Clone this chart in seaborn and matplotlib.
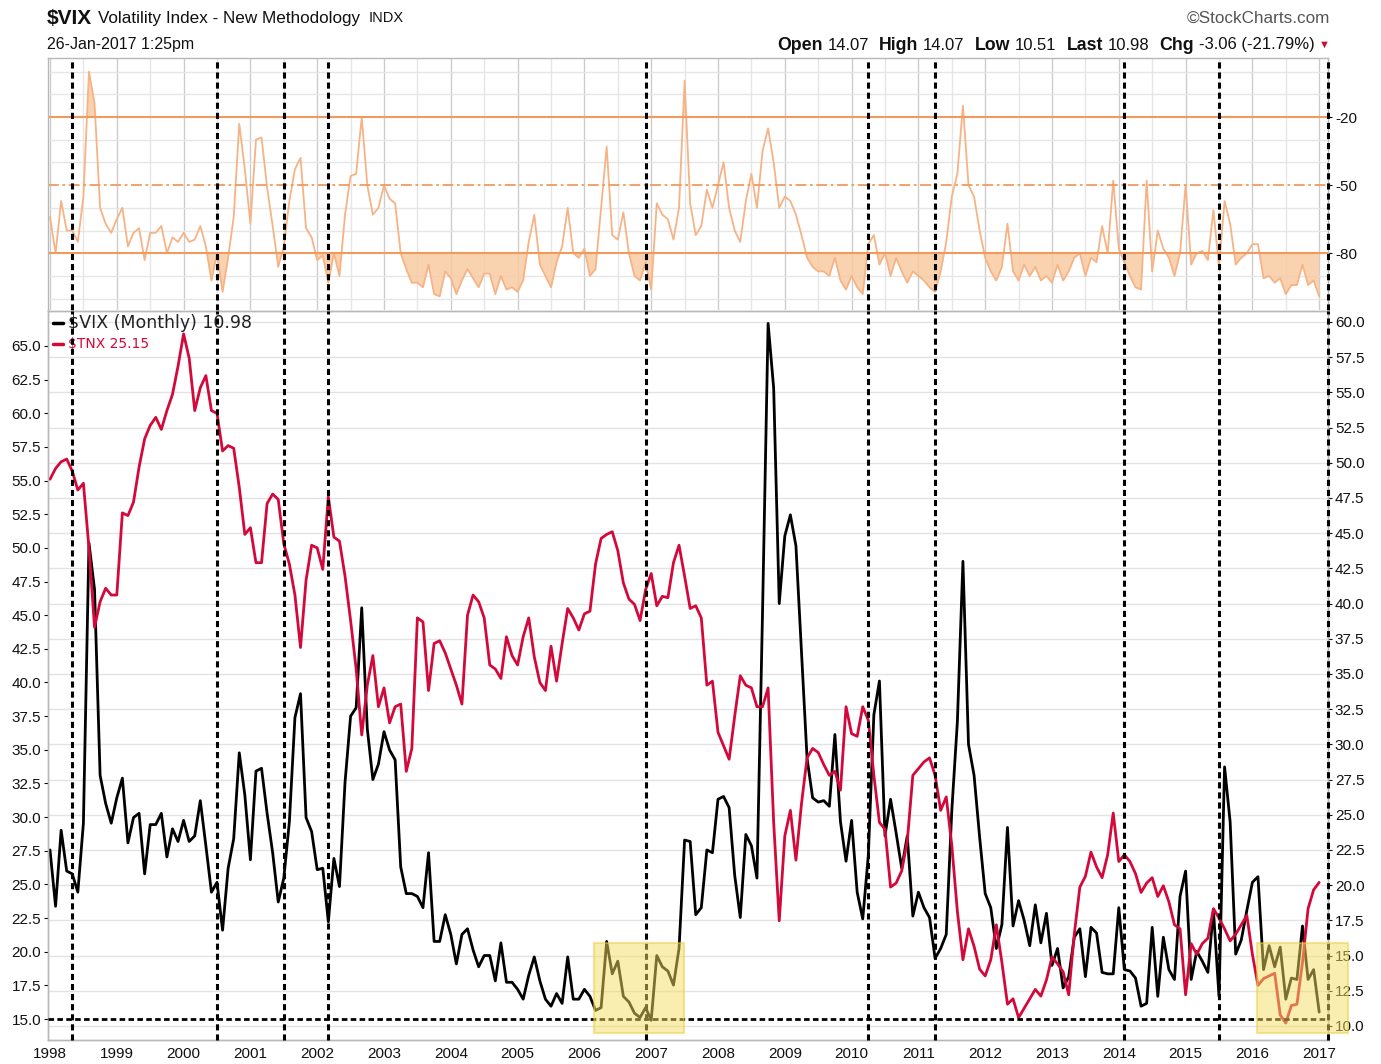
import numpy as np
import pandas as pd
import matplotlib.pyplot as plt
import matplotlib.patches as patches
import seaborn as sns

START_YEAR = 1998

# monthly closes, Jan 1998 .. Jan 2017
VIX = [
    22.5, 18.5, 23.9, 21.0, 20.8, 19.5, 24.4, 44.3, 41.0, 27.8, 25.8, 24.4,
    26.2, 27.6, 23.0, 24.8, 25.1, 20.8, 24.3, 24.3, 25.1, 22.0, 24.0, 23.1,
    24.6, 23.1, 23.5, 26.0, 22.8, 19.5, 20.2, 16.8, 21.2, 23.3, 29.4, 26.4,
    21.8, 28.1, 28.3, 25.1, 22.3, 18.8, 20.5, 24.5, 31.9, 33.6, 24.8, 23.8,
    21.1, 21.2, 17.4, 21.9, 19.9, 27.3, 32.0, 32.6, 39.7, 31.1, 27.5, 28.6,
    30.9, 29.6, 28.9, 21.3, 19.4, 19.4, 19.2, 18.4, 22.3, 16.0, 16.0, 17.9,
    16.5, 14.4, 16.5, 16.9, 15.4, 14.2, 15.0, 15.0, 13.2, 15.9, 13.1, 13.1,
    12.6, 11.9, 13.6, 14.9, 13.2, 11.9, 11.4, 12.3, 11.6, 14.9, 11.9, 11.9,
    12.6, 12.1, 11.1, 11.3, 16.0, 13.7, 14.6, 12.1, 11.7, 10.9, 10.6, 11.3,
    10.4, 15.0, 14.2, 13.9, 12.9, 15.5, 23.2, 23.1, 17.9, 18.4, 22.5, 22.3,
    26.1, 26.3, 25.5, 20.7, 17.7, 23.6, 22.8, 20.5, 39.4, 59.9, 55.3, 40.0,
    44.8, 46.3, 44.1, 36.5, 29.0, 26.2, 25.9, 26.0, 25.6, 30.7, 24.5, 21.7,
    24.6, 19.5, 17.6, 22.1, 32.1, 34.5, 23.5, 26.1, 23.7, 21.2, 23.5, 17.8,
    19.5, 18.4, 17.7, 14.8, 15.5, 16.5, 25.3, 31.6, 43.0, 30.0, 27.8, 23.4,
    19.4, 18.4, 15.5, 17.2, 24.1, 17.1, 18.9, 17.5, 15.7, 18.6, 15.9, 18.0,
    14.3, 15.5, 12.7, 13.5, 16.3, 16.9, 13.5, 17.0, 16.6, 13.8, 13.7, 13.7,
    18.4, 14.0, 13.9, 13.4, 11.4, 11.6, 17.0, 12.1, 16.3, 14.0, 13.3, 19.2,
    21.0, 13.3, 15.3, 14.6, 13.8, 18.2, 12.1, 28.4, 24.5, 15.1, 16.1, 18.2,
    20.2, 20.6, 14.0, 15.7, 14.2, 15.6, 11.9, 13.4, 13.3, 17.1, 13.3, 14.0,
    10.98,
]

TNX = [
    55.1, 55.9, 56.4, 56.6, 55.7, 54.3, 54.8, 50.0, 44.1, 46.0, 47.0, 46.5,
    46.5, 52.6, 52.4, 53.4, 56.0, 58.1, 59.1, 59.7, 58.8, 60.2, 61.4, 63.5,
    65.9, 64.1, 60.2, 61.9, 62.8, 60.2, 60.0, 57.2, 57.6, 57.4, 54.5, 51.0,
    51.5, 48.9, 48.9, 53.3, 54.0, 53.6, 50.3, 48.8, 46.5, 42.6, 47.6, 50.2,
    50.0, 48.4, 53.8, 50.8, 50.5, 47.9, 44.6, 41.0, 36.1, 39.8, 42.0, 38.2,
    39.6, 37.0, 38.2, 38.4, 33.4, 35.1, 44.8, 44.5, 39.4, 42.9, 43.1, 42.2,
    41.0, 39.8, 38.4, 45.0, 46.5, 46.0, 44.8, 41.3, 41.0, 40.3, 43.4, 42.0,
    41.3, 43.4, 44.8, 41.9, 40.0, 39.4, 42.7, 40.1, 42.9, 45.5, 44.8, 43.9,
    45.1, 45.3, 48.8, 50.7, 51.0, 51.2, 49.8, 47.4, 46.2, 45.8, 44.6, 46.9,
    48.1, 45.7, 46.4, 46.3, 48.9, 50.2, 47.9, 45.5, 45.7, 44.8, 39.8, 40.1,
    36.3, 35.3, 34.3, 37.5, 40.5, 39.8, 39.6, 38.2, 38.2, 39.6, 29.6, 22.3,
    28.6, 30.5, 26.8, 31.0, 34.4, 35.1, 34.8, 33.9, 33.1, 33.4, 32.0, 38.2,
    36.2, 36.0, 38.2, 37.2, 33.1, 29.6, 29.1, 24.8, 25.1, 26.0, 28.2, 33.1,
    33.6, 34.1, 34.4, 33.1, 30.5, 31.5, 27.9, 23.0, 19.4, 21.7, 20.4, 18.7,
    18.2, 19.4, 22.0, 19.2, 16.1, 16.5, 15.1, 15.8, 16.5, 17.2, 16.7, 17.9,
    19.6, 19.1, 18.5, 16.8, 21.3, 24.8, 25.6, 27.4, 26.3, 25.5, 27.2, 30.3,
    26.7, 27.2, 26.7, 25.8, 24.4, 25.1, 25.5, 24.1, 24.9, 23.7, 22.0, 21.7,
    16.8, 20.6, 19.8, 20.6, 21.0, 23.2, 22.5, 21.7, 20.8, 21.3, 22.0, 22.7,
    19.8, 17.5, 18.0, 18.2, 18.4, 15.3, 14.7, 16.0, 16.1, 19.2, 23.2, 24.6,
    25.15,
]

# upper oscillator panel
WPR = [
    -64, -80, -57, -70, -70, -75, -55, 0, -14, -60, -67, -71,
    -65, -60, -77, -71, -69, -83, -71, -71, -68, -80, -73, -75,
    -71, -75, -74, -68, -77, -92, -80, -97, -82, -64, -23, -43,
    -67, -30, -29, -51, -68, -86, -77, -57, -43, -38, -69, -73,
    -83, -81, -93, -80, -90, -63, -46, -45, -20, -50, -63, -60,
    -50, -56, -58, -80, -87, -93, -93, -95, -85, -98, -99, -88,
    -91, -98, -92, -87, -91, -95, -89, -89, -98, -90, -96, -95,
    -97, -92, -75, -63, -85, -90, -95, -84, -77, -60, -80, -82,
    -78, -90, -87, -60, -33, -72, -74, -62, -80, -90, -92, -84,
    -96, -58, -63, -65, -74, -60, -4, -58, -72, -68, -52, -60,
    -50, -40, -60, -70, -75, -57, -45, -60, -35, -25, -40, -60,
    -55, -57, -63, -72, -82, -86, -88, -88, -90, -82, -92, -96,
    -90, -95, -98, -76, -72, -85, -80, -90, -82, -88, -93, -88,
    -90, -92, -95, -97, -88, -75, -55, -45, -15, -50, -55, -70,
    -82, -88, -92, -86, -67, -88, -92, -85, -90, -86, -92, -90,
    -93, -85, -92, -88, -82, -80, -90, -82, -84, -68, -80, -48,
    -78, -84, -90, -95, -96, -48, -88, -70, -78, -82, -90, -80,
    -50, -85, -80, -79, -83, -61, -86, -57, -67, -85, -82, -80,
    -76, -76, -91, -90, -93, -91, -98, -94, -94, -85, -94, -92,
    -99,
]

YEARS = list(range(1998, 2018))
MARKED_MONTHS = ["1998-05", "2000-07", "2001-07", "2002-03", "2006-12",
                 "2010-04", "2011-04", "2014-02", "2015-07"]
HIGHLIGHT_SPANS = [(2006.14, 2007.49), (2016.07, 2017.43)]


def month_to_year(label):
    y, m = label.split("-")
    return int(y) + (int(m) - 1) / 12


W, H = 1381, 1064
X_MIN = 1998 - 2 / 66.8
X_MAX = 1998 + 1278 / 66.8

sns.set_style("white")
plt.rcParams["font.family"] = ["Liberation Sans", "DejaVu Sans"]
plt.rcParams["axes.unicode_minus"] = False

df = pd.DataFrame({"date": START_YEAR + np.arange(len(VIX)) / 12,
                   "vix": VIX, "tnx": TNX, "wpr": WPR})

fig = plt.figure(figsize=(W / 100, H / 100), dpi=100)
left = 48 / W
width = (1328 - 48) / W
ax_top = fig.add_axes([left, 1 - 310 / H, width, (310 - 58) / H])
ax = fig.add_axes([left, 1 - 1040 / H, width, (1040 - 311) / H])
ax_vix = ax.twinx()

ORANGE = "#f29a5c"
LIGHT_OR = "#f6b385"
FILL_OR = "#f8cba3"
FRAME = "#b8b8b8"
RED = "#d2093a"

# ---------------- top panel ----------------
sns.lineplot(data=df, x="date", y="wpr", ax=ax_top, color=LIGHT_OR, linewidth=1.3)
ax_top.fill_between(df["date"], df["wpr"], -80, where=df["wpr"] < -80,
                    interpolate=True, color=FILL_OR, alpha=0.85, linewidth=0)
ax_top.fill_between(df["date"], df["wpr"], -20, where=df["wpr"] > -20,
                    interpolate=True, color=FILL_OR, alpha=0.85, linewidth=0)
ax_top.axhline(-20, color=ORANGE, lw=1.5)
ax_top.axhline(-80, color=ORANGE, lw=1.5)
ax_top.axhline(-50, color=ORANGE, lw=1.3, dashes=(6, 2, 1.5, 2))
ax_top.set_ylim(-105, 6)
ax_top.yaxis.tick_right()
ax_top.set_yticks([-20, -50, -80])
ax_top.set_yticklabels(["-20", "-50", "-80"])
ax_top.set_yticks(np.arange(-100, 1, 10), minor=True)
ax_top.grid(True, which="minor", axis="y", color="#e6e6e6", lw=1)

# ---------------- bottom panel ----------------
sns.lineplot(data=df, x="date", y="vix", ax=ax_vix, color="black", linewidth=2.0)
sns.lineplot(data=df, x="date", y="tnx", ax=ax, color=RED, linewidth=2.0)
ax.set_zorder(ax_vix.get_zorder() + 1)
ax.patch.set_visible(False)

ax.set_ylim(13.44, 67.6)
ax_vix.set_ylim(9.0, 60.78)
ax.set_yticks(np.arange(15, 65.1, 2.5))
ax.set_yticklabels([f"{v:.1f}" for v in np.arange(15, 65.1, 2.5)])
ax_vix.set_yticks(np.arange(10, 60.1, 2.5))
ax_vix.set_yticklabels([f"{v:.1f}" for v in np.arange(10, 60.1, 2.5)])
ax_vix.grid(True, axis="y", color="#e3e3e3", lw=1)

for a in (ax_top, ax, ax_vix):
    a.set_xlim(X_MIN, X_MAX)
    a.set_xlabel("")
    a.set_ylabel("")
    for s in a.spines.values():
        s.set_color(FRAME)
        s.set_linewidth(1)
ax_top.spines["bottom"].set_visible(False)

for a in (ax_top, ax_vix):
    a.set_xticks(YEARS)
    a.set_xticks(np.arange(1998.5, 2017.2, 1), minor=True)
    a.grid(True, which="major", axis="x", color="#cccccc", lw=1)
    a.grid(True, which="minor", axis="x", color="#e6e6e6", lw=1)
    a.tick_params(axis="x", which="both", length=0, labelbottom=False)

ax.set_xticks(YEARS)
ax.set_xticklabels([str(y) for y in YEARS])
ax.set_xticks(START_YEAR + np.arange(len(VIX)) / 12, minor=True)
ax.tick_params(axis="x", which="major", length=0, labelsize=11, pad=5,
               colors="#111111")
ax.tick_params(axis="x", which="minor", length=3, width=0.7, color="#9a9a9a")
ax.tick_params(axis="y", length=3, labelsize=11, pad=2, colors="#111111")
ax_vix.tick_params(axis="y", length=3, labelsize=11, pad=2, colors="#111111")
ax_top.tick_params(axis="y", which="major", length=3, labelsize=11, pad=2,
                   colors="#111111")
ax_top.tick_params(axis="y", which="minor", length=0)

# marked months: dashed verticals through both panels
for m in MARKED_MONTHS + [None]:
    xv = X_MAX if m is None else month_to_year(m)
    for a in (ax_top, ax):
        a.axvline(xv, color="black", lw=2.2, dashes=(2.0, 1.3), clip_on=False,
                  zorder=5)

ax.axhline(15.0, color="black", lw=2.0, dashes=(2.0, 1.2), zorder=5)

for x0, x1 in HIGHLIGHT_SPANS:
    rect = patches.Rectangle((x0, 9.5), x1 - x0, 6.4, transform=ax_vix.transData,
                             facecolor="#f4df60", edgecolor="#eccc3a",
                             alpha=0.5, lw=1.5, clip_on=False, zorder=6)
    ax.add_patch(rect)

# legend
ax.plot([0.004, 0.012], [0.983, 0.983], transform=ax.transAxes, color="black",
        lw=2.5, clip_on=False)
ax.text(0.016, 0.983, "\\$VIX (Monthly) 10.98", transform=ax.transAxes,
        fontsize=12.5, family="DejaVu Sans", va="center", ha="left",
        color="#222222")
ax.plot([0.004, 0.012], [0.955, 0.955], transform=ax.transAxes, color=RED,
        lw=2.5, clip_on=False)
ax.text(0.016, 0.955, "\\$TNX 25.15", transform=ax.transAxes, color=RED,
        fontsize=10, family="DejaVu Sans", va="center", ha="left")

# header texts
renderer = fig.canvas.get_renderer()


def put_row(pieces, x_px, y_px, align="left"):
    texts = []
    for txt, weight, size, color, gap in pieces:
        t = fig.text(0, 1 - y_px / H, txt, fontsize=size, fontweight=weight,
                     color=color, va="center", ha="left")
        texts.append((t, gap))
    widths = [t.get_window_extent(renderer).width for t, _ in texts]
    total = sum(widths) + sum(g for _, g in texts[:-1])
    x = x_px if align == "left" else x_px - total
    for (t, gap), w in zip(texts, widths):
        t.set_x(x / W)
        x += w + gap


put_row([("\\$VIX", "bold", 15, "#111111", 6),
         ("Volatility Index - New Methodology", "normal", 12.3, "#111111", 8),
         ("INDX", "normal", 10.5, "#111111", 0)], 47, 18)
put_row([("26-Jan-2017 1:25pm", "normal", 11.5, "#111111", 0)], 47, 45)
put_row([("\u00a9StockCharts.com", "normal", 12.3, "#555555", 0)], 1330, 18,
        align="right")
put_row([("Open", "bold", 12.8, "#111111", 5), ("14.07", "normal", 12, "#111111", 10),
         ("High", "bold", 12.8, "#111111", 5), ("14.07", "normal", 12, "#111111", 10),
         ("Low", "bold", 12.8, "#111111", 5), ("10.51", "normal", 12, "#111111", 10),
         ("Last", "bold", 12.8, "#111111", 5), ("10.98", "normal", 12, "#111111", 10),
         ("Chg", "bold", 12.8, "#111111", 5),
         ("-3.06 (-21.79%)", "normal", 12, "#111111", 4),
         ("\u25bc", "normal", 8, "#c8102e", 0)], 1330, 45, align="right")

fig.savefig("out.png", dpi=100, facecolor="white")
